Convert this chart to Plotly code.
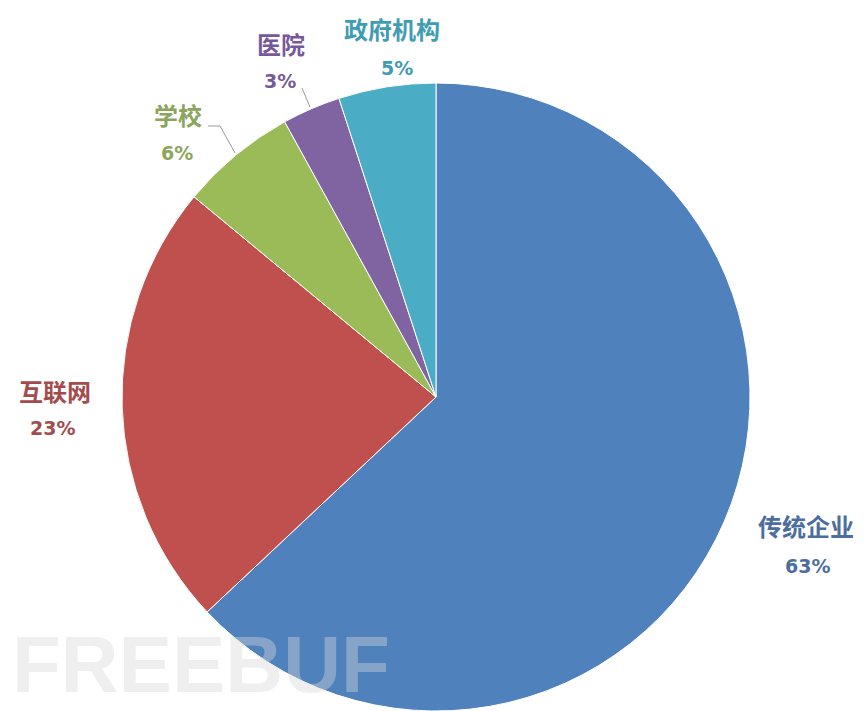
import plotly.graph_objects as go

categories = ["传统企业", "互联网", "学校", "医院", "政府机构"]
values = [63, 23, 6, 3, 5]
slice_colors = ["#4F81BD", "#C0504D", "#9BBB59", "#8064A2", "#4BACC6"]
label_colors = ["#4C6E9E", "#A34C4C", "#8AA55C", "#77599A", "#3F9DB3"]
# label anchor positions in pixels: name (x, y) and percent (x, y)
name_pos = [(806, 525), (55, 390), (178, 114), (281, 43), (392, 28)]
pct_pos = [(807, 566), (52, 428), (177, 153), (280, 81), (397, 68)]

W, H = 864, 711
cx, cy, r = 436, 397, 314

fig = go.Figure()
fig.add_trace(go.Pie(
    labels=categories, values=values, sort=False, direction="clockwise",
    rotation=0, textinfo="none", hoverinfo="label+percent",
    marker=dict(colors=slice_colors, line=dict(color="white", width=1)),
    domain=dict(x=[(cx - r) / W, (cx + r) / W], y=[(H - cy - r) / H, (H - cy + r) / H]),
    showlegend=False,
))

total = sum(values)
for cat, v, col, (x, y), (px, py) in zip(categories, values, label_colors, name_pos, pct_pos):
    fig.add_annotation(x=x / W, y=1 - y / H, xref="paper", yref="paper",
                       text=f"<b>{cat}</b>", showarrow=False,
                       font=dict(family="Noto Sans CJK SC", size=24, color=col),
                       xanchor="center", yanchor="middle")
    fig.add_annotation(x=px / W, y=1 - py / H, xref="paper", yref="paper",
                       text=f"<b>{round(v / total * 100)}%</b>", showarrow=False,
                       font=dict(family="DejaVu Sans", size=19, color=col),
                       xanchor="center", yanchor="middle")

# leader lines
for pts in [[(208, 126), (220, 126), (235, 153)], [(302, 88), (310, 107)]]:
    path = "M " + " L ".join(f"{px / W},{1 - py / H}" for px, py in pts)
    fig.add_shape(type="path", path=path, xref="paper", yref="paper",
                  line=dict(color="#999999", width=1))

# watermark
fig.add_annotation(x=10 / W, y=0, xref="paper", yref="paper",
                   text="<b>FREEBUF</b>", showarrow=False, xanchor="left", yanchor="bottom",
                   font=dict(family="Liberation Sans", size=80, color="#d8d8d8"),
                   opacity=0.4)

fig.update_layout(width=W, height=H, margin=dict(l=0, r=0, t=0, b=0),
                  paper_bgcolor="white", plot_bgcolor="white")
fig.write_html("out.html")
